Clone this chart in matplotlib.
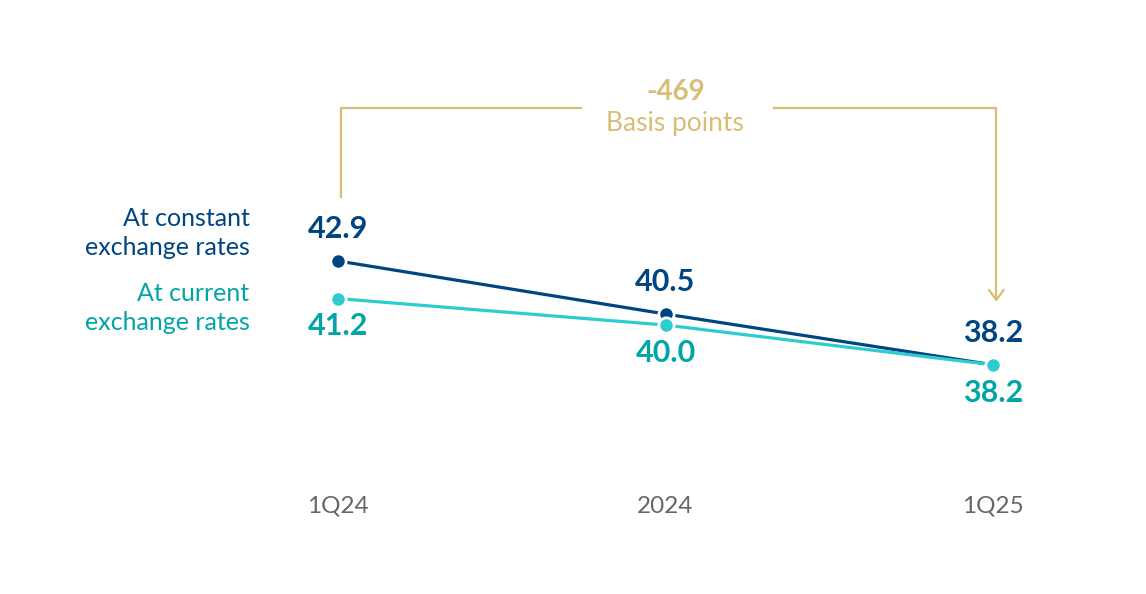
import numpy as np
import matplotlib.pyplot as plt
from matplotlib.lines import Line2D

plt.rcParams['font.family'] = ['Lato', 'DejaVu Sans']

periods = ['1Q24', '2024', '1Q25']
constant_rates = [42.9, 40.5, 38.2]
current_rates = [41.2, 40.0, 38.2]
change_bp = -469

navy = '#004481'
cyan = '#2DCCCD'
teal = '#02A5A5'
gold = '#D8BE75'
grey = '#666666'

fig = plt.figure(figsize=(11.46, 5.94), dpi=100)
ax = fig.add_axes([0, 0, 1, 1])
ax.set_xlim(-1.032, 2.467)
ax.set_ylim(27.83, 54.71)
ax.axis('off')

x = np.arange(len(periods))
ax.plot(x, constant_rates, color=navy, lw=2.3, marker='o', ms=11,
        mec='white', mew=2, zorder=3)
ax.plot(x, current_rates, color=cyan, lw=2.3, marker='o', ms=11,
        mec='white', mew=2, zorder=4)

for i in x:
    ax.annotate(f'{constant_rates[i]:.1f}', (i, constant_rates[i]),
                xytext=(0, 13), textcoords='offset points', ha='center',
                va='bottom', fontsize=22, fontweight='bold', color=navy)
    ax.annotate(f'{current_rates[i]:.1f}', (i, current_rates[i]),
                xytext=(0, -10), textcoords='offset points', ha='center',
                va='top', fontsize=22, fontweight='bold', color=teal)
    ax.text(i, 31.8, periods[i], ha='center', va='center', fontsize=17.5,
            color=grey)

# series labels on the left
ax.text(-0.27, 44.17, 'At constant\nexchange rates', ha='right',
        va='center', fontsize=18, color=navy, linespacing=1.35,
        multialignment='right')
ax.text(-0.27, 40.77, 'At current\nexchange rates', ha='right',
        va='center', fontsize=18, color=teal, linespacing=1.35,
        multialignment='right')

# bracket with arrow showing the change
y_top = 42.9 + 153 / 22.1
y_start = 42.9 + 64 / 22.1
y_end = 42.9 - 39 / 22.1
x_l = 0.01
x_r = 2.01
ax.add_line(Line2D([x_l, x_l, 0.742], [y_start, y_top, y_top], color=gold,
                   lw=1.6))
ax.add_line(Line2D([1.331, x_r, x_r], [y_top, y_top, y_end + 0.05],
                   color=gold, lw=1.6))
ax.add_line(Line2D([x_r - 0.022, x_r, x_r + 0.022],
                   [y_end + 0.45, y_end, y_end + 0.45], color=gold, lw=1.6))
ax.text(1.03, y_top + 0.72, f'{change_bp}', ha='center', va='center',
        fontsize=20, fontweight='bold', color=gold)
ax.text(1.03, y_top - 0.68, 'Basis points', ha='center', va='center',
        fontsize=19, color=gold)

fig.savefig('out.png', dpi=100)
